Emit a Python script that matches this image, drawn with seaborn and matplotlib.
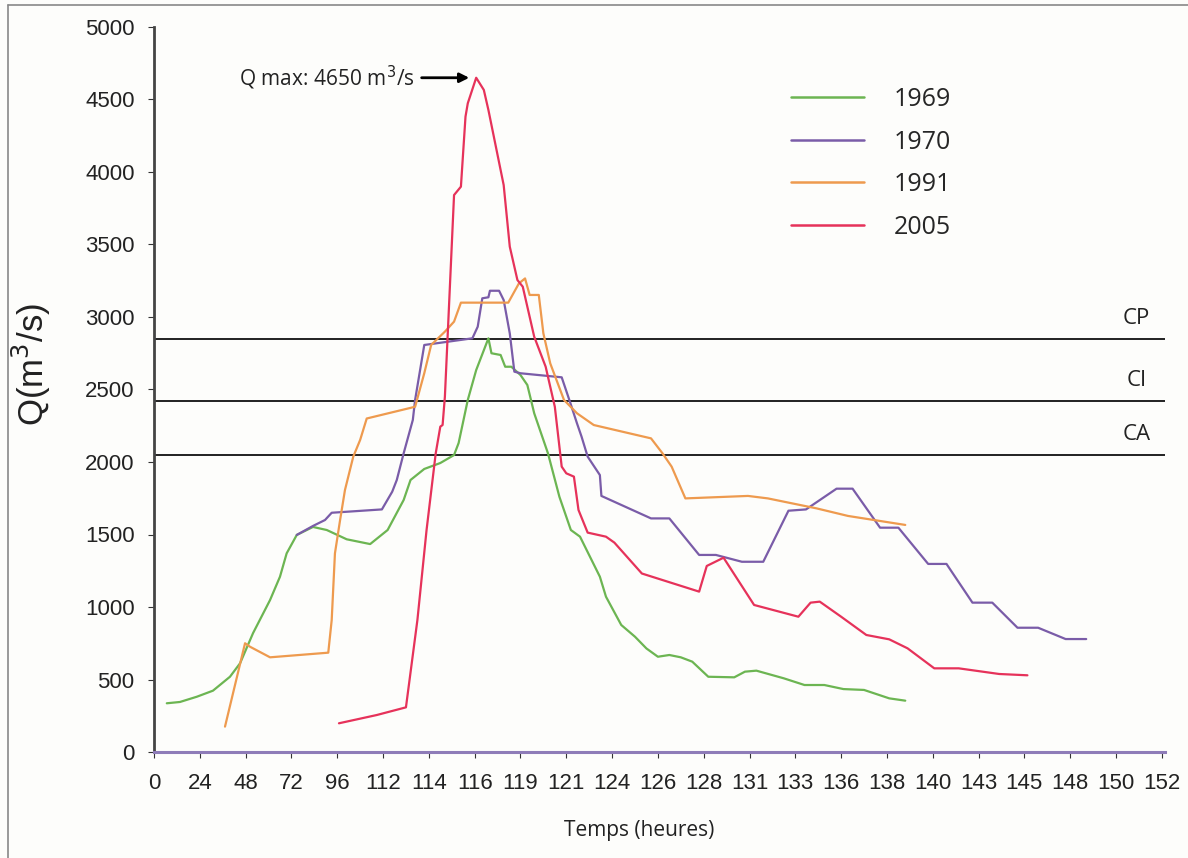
import numpy as np
import pandas as pd
import matplotlib
matplotlib.use("Agg")
import matplotlib.pyplot as plt
import seaborn as sns
from matplotlib.lines import Line2D

# Axe des temps (étiquettes de l'axe X, en heures)
tick_hours = [0, 24, 48, 72, 96, 112, 114, 116, 119, 121, 124, 126, 128, 131,
              133, 136, 138, 140, 143, 145, 148, 150, 152]

# Hydrogrammes (temps en heures, débit en m3/s)
h_1969 = [6.7, 13.6, 22.4, 30.9, 39.8, 45.1, 51.9, 60.8, 66.0, 69.5, 74.8, 83.3, 90.5,
          99.3, 107.5, 112.2, 112.9, 113.2, 113.8, 114.5, 115.1, 115.3, 115.7, 116.1,
          116.9, 117.1, 117.7, 118.0, 118.4, 119.0, 119.3, 119.6, 120.2, 120.7, 121.3,
          121.9, 123.2, 123.6, 124.4, 125.0, 125.5, 126.0, 126.5, 127.0, 127.5, 128.3,
          130.0, 130.7, 131.3, 132.5, 133.6, 134.9, 136.1, 137.0, 138.1, 138.8]
q_1969 = [336, 345, 381, 423, 519, 612, 820, 1048, 1209, 1370, 1497, 1552, 1531,
          1467, 1434, 1531, 1738, 1876, 1952, 1993, 2048, 2131, 2428, 2634,
          2853, 2750, 2738, 2657, 2657, 2600, 2531, 2336, 2060, 1760, 1531,
          1485, 1209, 1071, 876, 795, 714, 657, 669, 653, 623, 519,
          515, 554, 561, 508, 462, 462, 434, 428, 370, 354]

h_1970 = [74.8, 83.3, 89.6, 93.1, 111.6, 112.4, 112.6, 112.9, 113.3, 113.4, 113.8,
          115.9, 116.2, 116.5, 116.9, 117.0, 117.6, 117.9, 118.3, 118.6, 119.0,
          120.8, 121.2, 121.7, 122.0, 122.4, 123.2, 123.3, 125.7, 126.5, 127.8,
          128.8, 130.5, 131.6, 132.7, 133.7, 135.7, 136.5, 137.7, 138.5, 139.8,
          140.9, 142.6, 143.6, 144.7, 145.9, 147.7, 148.7]
q_1970 = [1497, 1559, 1600, 1650, 1673, 1795, 1876, 2060, 2290, 2428, 2807,
          2853, 2933, 3129, 3136, 3181, 3181, 3117, 2887, 2623, 2612,
          2584, 2428, 2267, 2175, 2037, 1910, 1766, 1611, 1611, 1359,
          1359, 1312, 1312, 1664, 1673, 1816, 1816, 1547, 1547, 1297,
          1297, 1030, 1030, 857, 857, 779, 779]

h_1991 = [37.2, 47.7, 50.3, 60.8, 91.3, 93.1, 94.8, 97.0, 98.7, 101.6, 104.0, 106.3,
          113.4, 113.8, 114.1, 114.7, 115.1, 115.4, 118.2, 118.9, 119.2, 119.4,
          119.8, 120.0, 120.3, 120.9, 121.7, 122.8, 125.7, 126.2, 126.6, 127.2,
          130.9, 131.8, 134.4, 136.3, 138.8]
q_1991 = [175, 750, 726, 653, 685, 910, 1370, 1600, 1807, 2037, 2152, 2300,
          2381, 2612, 2807, 2899, 2968, 3099, 3099, 3232, 3266, 3152,
          3152, 2887, 2680, 2428, 2336, 2255, 2163, 2060, 1968, 1749,
          1766, 1749, 1680, 1628, 1566]

h_2005 = [96.6, 109.8, 113.0, 113.5, 113.9, 114.3, 114.5, 114.6, 114.7, 115.1,
          115.4, 115.6, 115.7, 116.1, 116.6, 116.9, 117.9, 118.3, 118.8, 119.1,
          119.6, 120.1, 120.5, 120.8, 121.0, 121.5, 121.8, 122.4, 123.6, 124.1,
          125.3, 127.8, 128.2, 129.3, 131.2, 133.2, 134.0, 134.6, 136.0, 137.1,
          138.1, 138.9, 140.1, 141.7, 143.9, 145.2]
q_2005 = [198, 255, 308, 910, 1531, 2060, 2244, 2255, 2450, 3841,
          3899, 4382, 4474, 4650, 4566, 4428, 3910, 3485, 3255, 3209,
          2864, 2657, 2381, 1968, 1922, 1899, 1669, 1513, 1485, 1444,
          1231, 1106, 1283, 1340, 1014, 933, 1030, 1037, 933, 807,
          777, 715, 577, 577, 538, 529]

# Seuils de crue
seuils = {"CP": 2850, "CI": 2420, "CA": 2050}
q_max = 4650

annees = ["1969", "1970", "1991", "2005"]
couleurs = ["#6cb552", "#7a5ca8", "#ee9a4e", "#e6325a"]
series = [(h_1969, q_1969), (h_1970, q_1970), (h_1991, q_1991), (h_2005, q_2005)]

# L'axe X est un axe de catégories : position = rang de l'étiquette
tick_pos = np.arange(len(tick_hours))
frames = []
for annee, (h, q) in zip(annees, series):
    frames.append(pd.DataFrame({"pos": np.interp(h, tick_hours, tick_pos),
                                "Q": q, "annee": annee}))
df = pd.concat(frames, ignore_index=True)

sns.set_style("white")
plt.rcParams["font.family"] = ["Liberation Sans", "DejaVu Sans"]

fig = plt.figure(figsize=(11.88, 8.58), dpi=100, facecolor="#fdfdfb")
ax = fig.add_axes([154 / 1188, 106 / 858, 1011 / 1188, 725 / 858])
ax.set_facecolor("#fdfdfb")

sns.lineplot(data=df, x="pos", y="Q", hue="annee", palette=couleurs,
             hue_order=annees, linewidth=1.6, sort=False, estimator=None,
             legend=False, ax=ax)

for nom, val in seuils.items():
    ax.axhline(val, color="#111111", lw=1.3, zorder=1)
    ax.text(21.45, val + 70, nom, ha="center", va="bottom", fontsize=16,
            family="Open Sans", color="#222222")

# Pic de crue
i_pk = int(np.argmax(q_2005))
x_pk = np.interp(h_2005[i_pk], tick_hours, tick_pos)
ax.annotate("Q max: %d m$^3$/s" % q_max, xy=(x_pk, q_max), xytext=(-62, 0),
            textcoords="offset pixels", ha="right", va="center",
            fontsize=15, family="Open Sans", color="#222222",
            arrowprops=dict(arrowstyle="-|>", color="black", lw=2,
                            shrinkA=3, shrinkB=5, mutation_scale=14))

ax.set_xlim(0, 22.07)
ax.set_ylim(0, 5000)
ax.set_xticks(tick_pos)
ax.set_xticklabels([str(t) for t in tick_hours])
ax.set_yticks(np.arange(0, 5001, 500))
ax.tick_params(axis="both", labelsize=16, colors="#333333", length=4,
               width=0.8, direction="out", left=True, bottom=True)
ax.tick_params(axis="x", pad=11)
ax.tick_params(axis="y", pad=10)
for lab in ax.get_xticklabels() + ax.get_yticklabels():
    lab.set_color("#222222")

sns.despine(ax=ax)
ax.spines["left"].set_color("#444444")
ax.spines["left"].set_linewidth(2)
ax.spines["bottom"].set_color("#8e7cb8")
ax.spines["bottom"].set_linewidth(2.2)

ax.set_xlabel("Temps (heures)", fontsize=15, family="Open Sans", color="#222222")
ax.xaxis.set_label_coords(0.48, -0.094)
ax.set_ylabel("Q(m$^3$/s)", fontsize=25, color="#222222")
ax.yaxis.set_label_coords(-0.10, 0.535)

# Légende
handles = [Line2D([0], [0], color=c, lw=1.8) for c in couleurs]
leg = ax.legend(handles, annees, loc="upper left", bbox_to_anchor=(0.608, 0.948),
                frameon=False, handlelength=2.9, handletextpad=1.2,
                labelspacing=0.7, prop={"family": "Open Sans", "size": 18})

# Cadre de la figure (bords gauche et haut)
fig.add_artist(Line2D([8 / 1188, 8 / 1188], [0, 1 - 5 / 858],
                      transform=fig.transFigure, color="#888888", lw=1.2))
fig.add_artist(Line2D([8 / 1188, 1], [1 - 5 / 858, 1 - 5 / 858],
                      transform=fig.transFigure, color="#888888", lw=1.2))

fig.savefig("out.png", dpi=100, facecolor=fig.get_facecolor())
plt.close(fig)
